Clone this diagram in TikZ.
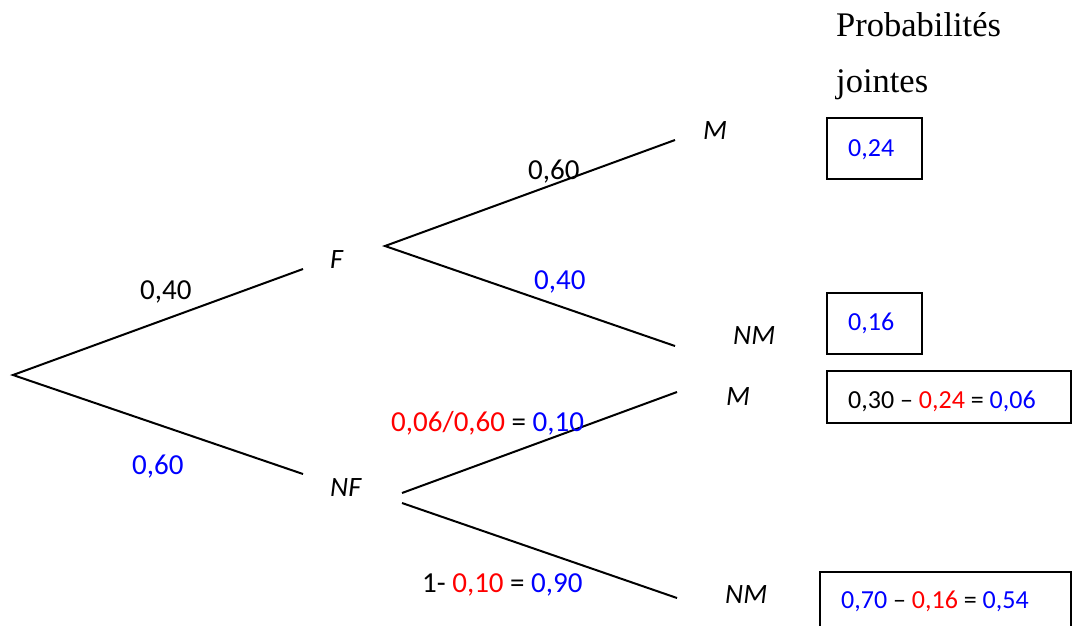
\documentclass[tikz,border=0pt]{standalone}
\usepackage{fontspec}
\setmainfont{Carlito}
\newfontfamily\headfont{Liberation Serif}
\definecolor{pblue}{RGB}{0,0,255}
\definecolor{pred}{RGB}{255,0,0}
\tikzset{
  branch/.style={line width=2pt, black},
  lbl/.style={inner sep=0pt, anchor=base west, font=\fontsize{29}{34}\selectfont},
  boxtxt/.style={inner sep=0pt, anchor=base west, font=\fontsize{26}{32}\selectfont},
  evt/.style={lbl, font=\fontsize{28}{34}\selectfont\itshape},
  head/.style={inner sep=0pt, anchor=base west, font=\headfont\fontsize{34.5}{40}\selectfont},
  resbox/.style={draw, line width=1.6pt}
}
\begin{document}
\begin{tikzpicture}[x=1pt, y=-1pt]
\useasboundingbox (0,0) rectangle (1073,625);
\clip (0,0) rectangle (1073,625);

% branch end points
\coordinate (root) at (13,375);
\coordinate (toF)  at (303,269);
\coordinate (toNF) at (303,474);
\coordinate (fromF)   at (385,246);
\coordinate (FtoM)    at (675,140);
\coordinate (FtoNM)   at (675,346);
\coordinate (fromNFa) at (402,493);
\coordinate (fromNFb) at (402,503);
\coordinate (NFtoM)   at (677,392);
\coordinate (NFtoNM)  at (677,598);

% first level
\draw[branch] (toF) -- (root) -- (toNF);
% second level
\draw[branch] (FtoM) -- (fromF) -- (FtoNM);
\draw[branch] (fromNFa) -- (NFtoM);
\draw[branch] (fromNFb) -- (NFtoNM);

% events
\node[evt] (F)   at (330,268) {F};
\node[evt] (NF)  at (330,496) {NF};
\node[evt] (M1)  at (703,139) {M};
\node[evt] (NM1) at (733,344) {NM};
\node[evt] (M2)  at (726,405) {M};
\node[evt] (NM2) at (725,603) {NM};

% branch probabilities
\node[lbl] (pF)   at (140,299) {0,40};
\node[lbl, text=pblue] (pNF) at (132,474) {0,60};
\node[lbl] (pMF)  at (528,179) {0,60};
\node[lbl, text=pblue] (pNMF) at (534,289) {0,40};
\node[lbl] (pMNF) at (391,431) {\textcolor{pred}{0,06/0,60} = \textcolor{pblue}{0,10}};
\node[lbl] (pNMNF) at (422,592) {1- \textcolor{pred}{0,10} = \textcolor{pblue}{0,90}};

% joint probabilities
\node[head] (h1) at (836,36) {Probabilités};
\node[head] (h2) at (836,92) {jointes};

\draw[resbox] (827,118) rectangle (922,179);
\draw[resbox] (827,293) rectangle (922,354);
\draw[resbox] (827,371) rectangle (1071,423);
\draw[resbox] (820,572) rectangle (1071,640);

\node[boxtxt, text=pblue] (j1) at (848,156) {0,24};
\node[boxtxt, text=pblue] (j2) at (848,330) {0,16};
\node[boxtxt] (j3) at (848,408) {0,30 – \textcolor{pred}{0,24} = \textcolor{pblue}{0,06}};
\node[boxtxt] (j4) at (841,608) {\textcolor{pblue}{0,70} – \textcolor{pred}{0,16} = \textcolor{pblue}{0,54}};
\end{tikzpicture}
\end{document}
